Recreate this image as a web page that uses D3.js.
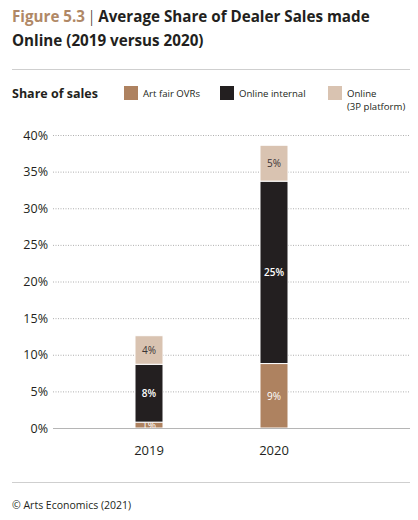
<!DOCTYPE html>
<html>
<head>
<meta charset="utf-8">
<script src="https://cdn.jsdelivr.net/npm/d3@7"></script>
<style>
  html, body { margin: 0; padding: 0; background: #fff; }
  svg { display: block; font-family: "Open Sans", "Noto Sans", sans-serif; }
</style>
</head>
<body>
<div id="chart"></div>
<script>
// chart data
const years = ['2019', '2020'];
const seriesNames = ['Art fair OVRs', 'Online internal', 'Online (3P platform)'];
const artFair = [0.8, 8.8];
const onlineInternal = [7.9, 24.9];
const online3P = [3.9, 4.9];
const segmentLabels = [['1%', '8%', '4%'], ['9%', '25%', '5%']];
const yTicks = [0, 5, 10, 15, 20, 25, 30, 35, 40];

const colors = ['#ae8260', '#231f20', '#d9c3b1'];
const labelColors = ['#fff', '#fff', '#3a3436'];

const W = 418, H = 520;
const svg = d3.select('#chart').append('svg')
  .attr('width', W).attr('height', H);

// title
const title = svg.append('text').attr('x', 12).attr('y', 22)
  .attr('font-size', 15.2).attr('font-weight', 700).attr('fill', '#231f20');
title.append('tspan').attr('fill', '#b08866').text('Figure 5.3');
title.append('tspan').attr('font-weight', 300).attr('font-size', 17).attr('fill', '#231f20')
  .attr('dx', 2).text('|');
title.append('tspan').attr('dx', 2).text('Average Share of Dealer Sales made');
svg.append('text').attr('x', 12).attr('y', 46)
  .attr('font-size', 15.2).attr('font-weight', 700).attr('fill', '#231f20')
  .text('Online (2019 versus 2020)');

svg.append('line').attr('x1', 12).attr('x2', 410).attr('y1', 69.5).attr('y2', 69.5)
  .attr('stroke', '#cfcfcf').attr('stroke-width', 1.2);

// legend
svg.append('text').attr('x', 12).attr('y', 98)
  .attr('font-size', 12.5).attr('font-weight', 700).attr('fill', '#231f20')
  .text('Share of sales');
const legendX = [124, 220, 328];
const lg = svg.append('g').selectAll('g').data(seriesNames).enter().append('g')
  .attr('transform', (d, i) => `translate(${legendX[i]},86)`);
lg.append('rect').attr('width', 14).attr('height', 14).attr('fill', (d, i) => colors[i]);
lg.each(function(d) {
  const parts = d === 'Online (3P platform)' ? ['Online', '(3P platform)'] : [d];
  d3.select(this).selectAll('text').data(parts).enter().append('text')
    .attr('x', 19).attr('y', (p, j) => 11 + j * 12.5)
    .attr('font-size', 9.6).attr('fill', '#231f20').text(p => p);
});

// scales
const margin = { left: 53, right: 410, top: 135, bottom: 428 };
const x = d3.scaleBand().domain(years).range([72.5, 350.5])
  .paddingInner(0.776).paddingOuter(0.5);
const y = d3.scaleLinear().domain([0, 40]).range([margin.bottom, margin.top]);

// grid + y labels
const yAxis = svg.append('g').attr('transform', `translate(${margin.left},0)`)
  .call(d3.axisLeft(y).tickValues(yTicks).tickFormat(d => d + '%')
    .tickSize(-(margin.right - margin.left)).tickPadding(5));
yAxis.select('.domain').remove();
yAxis.selectAll('.tick line')
  .attr('stroke', '#9a9a9a').attr('stroke-width', 0.8).attr('stroke-dasharray', '1,1.5');
yAxis.selectAll('.tick text').attr('font-size', 12.5).attr('fill', '#231f20')
  .attr('font-family', '"Open Sans", "Noto Sans", sans-serif');

// stacked bars
const table = years.map((yr, i) => ({
  year: yr, art: artFair[i], internal: onlineInternal[i], p3: online3P[i]
}));
const stack = d3.stack().keys(['art', 'internal', 'p3']);
const layers = stack(table);

const bars = svg.append('g');
layers.forEach((layer, k) => {
  bars.append('g').selectAll('rect').data(layer).enter().append('rect')
    .attr('x', d => x(d.data.year))
    .attr('width', x.bandwidth())
    .attr('y', d => y(d[1]))
    .attr('height', d => y(d[0]) - y(d[1]))
    .attr('fill', colors[k])
    .attr('stroke', '#fff').attr('stroke-width', 1);
  bars.append('g').selectAll('text').data(layer).enter().append('text')
    .attr('x', d => x(d.data.year) + x.bandwidth() / 2)
    .attr('y', d => (y(d[0]) + y(d[1])) / 2 + 4)
    .attr('text-anchor', 'middle').attr('font-size', 10)
    .attr('font-weight', k === 1 ? 600 : 400)
    .attr('fill', labelColors[k])
    .text((d, i) => segmentLabels[i][k]);
});

// baseline
svg.append('line').attr('x1', margin.left).attr('x2', margin.right)
  .attr('y1', y(0) + 0.5).attr('y2', y(0) + 0.5)
  .attr('stroke', '#b5b5b5').attr('stroke-width', 1.2);

// x labels
const xAxis = svg.append('g').attr('transform', `translate(0,${y(0)})`)
  .call(d3.axisBottom(x).tickSize(0).tickPadding(18));
xAxis.select('.domain').remove();
xAxis.selectAll('.tick text').attr('font-size', 13).attr('fill', '#231f20')
  .attr('font-family', '"Open Sans", "Noto Sans", sans-serif');

// footer
svg.append('line').attr('x1', 12).attr('x2', 410).attr('y1', 482.5).attr('y2', 482.5)
  .attr('stroke', '#cfcfcf').attr('stroke-width', 1.2);
svg.append('text').attr('x', 12).attr('y', 509).attr('font-size', 10.5).attr('fill', '#231f20')
  .text('© Arts Economics (2021)');
</script>
</body>
</html>
